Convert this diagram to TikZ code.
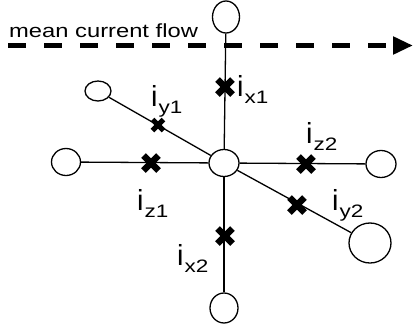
\documentclass[tikz,border=0pt]{standalone}
\usepackage{fontspec}
\setmainfont{Liberation Sans}
\newfontfamily\labfont[FakeStretch=1.25]{Liberation Sans}
\newfontfamily\ifont{Liberation Sans}
\usetikzlibrary{shapes.geometric,arrows.meta}
\newcommand{\curlab}[1]{{\ifont\fontsize{29}{29}\selectfont i}\kern1pt\raisebox{-7pt}{\labfont\fontsize{18}{18}\selectfont #1}}
\tikzset{
  port/.style={ellipse,draw,fill=white,line width=1.3pt,inner sep=0pt},
  wire/.style={line width=1.3pt},
  lbl/.style={anchor=base west,inner sep=0pt},
  xm/.pic={\draw[line width=6.5pt] (-7.5,-7.5)--(7.5,7.5) (-7.5,7.5)--(7.5,-7.5);},
  xms/.pic={\draw[line width=5pt] (-5.5,-5.5)--(5.5,5.5) (-5.5,5.5)--(5.5,-5.5);}
}
\begin{document}
\begin{tikzpicture}[x=1pt,y=-1pt]
\fill[white] (0,0) rectangle (415,330);
\useasboundingbox (0,0) rectangle (415,330);
% ports
\node[port,minimum width=30pt,minimum height=27pt] (c) at (224,163) {};
\node[port,minimum width=27pt,minimum height=32pt] (t) at (226,17) {};
\node[port,minimum width=28pt,minimum height=30pt] (b) at (224,308) {};
\node[port,minimum width=29pt,minimum height=27pt] (l) at (66,162) {};
\node[port,minimum width=30pt,minimum height=27pt] (r) at (381,164) {};
\node[port,minimum width=26pt,minimum height=20pt] (ul) at (98,91) {};
\node[port,minimum width=42pt,minimum height=40pt] (lr) at (370,243) {};
% wires
\draw[wire] (t) -- (c);
\draw[wire] (c) -- (b);
\draw[wire] (l) -- (c);
\draw[wire] (c) -- (r);
\draw[wire] (ul) -- (c);
\draw[wire] (c) -- (lr);
% flow arrow
\coordinate (fs) at (8,45.5);
\coordinate (fe) at (413,45.5);
\draw[line width=5pt,dash pattern=on 18pt off 18pt,-{Triangle[length=20pt,width=17pt]}] (fs) -- (fe);
\node[anchor=base west,inner sep=0pt] (mcf) at (9,37.5) {\labfont\fontsize{19}{19}\selectfont mean current flow};
% crosses
\pic at (225,87) {xm};
\pic at (225,236) {xm};
\pic at (151,163) {xm};
\pic at (306,164) {xm};
\pic at (158,125) {xms};
\pic at (297,205) {xm};
% labels
\node[lbl] (ix1) at (237,96) {\curlab{x1}};
\node[lbl] (iy1) at (151,106) {\curlab{y1}};
\node[lbl] (iz1) at (137,210) {\curlab{z1}};
\node[lbl] (iz2) at (306,143) {\curlab{z2}};
\node[lbl] (iy2) at (332,210) {\curlab{y2}};
\node[lbl] (ix2) at (177,265) {\curlab{x2}};
\end{tikzpicture}
\end{document}
